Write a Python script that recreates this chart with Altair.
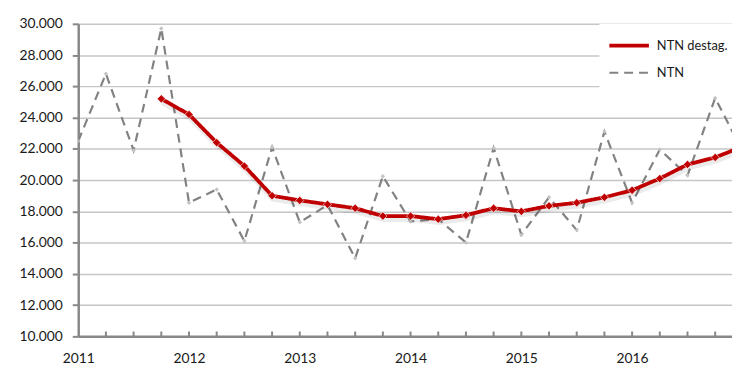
import altair as alt
import pandas as pd

# quarter index 0 = 2011 Q1
quarters = ["2011Q1", "2011Q2", "2011Q3", "2011Q4",
            "2012Q1", "2012Q2", "2012Q3", "2012Q4",
            "2013Q1", "2013Q2", "2013Q3", "2013Q4",
            "2014Q1", "2014Q2", "2014Q3", "2014Q4",
            "2015Q1", "2015Q2", "2015Q3", "2015Q4",
            "2016Q1", "2016Q2", "2016Q3", "2016Q4",
            "2017Q1"]
ntn = [22500, 26800, 21900, 29700,
       18550, 19400, 16100, 22100,
       17300, 18400, 15000, 20250,
       17350, 17500, 16000, 22050,
       16500, 18900, 16800, 23100,
       18550, 21950, 20300, 25250,
       21800]
ntn_destag = [None, None, None, 25200,
              24200, 22400, 20900, 19000,
              18700, 18450, 18200, 17700,
              17700, 17500, 17750, 18200,
              18000, 18350, 18550, 18900,
              19350, 20100, 21000, 21450,
              22150]
year_ticks = [0, 4, 8, 12, 16, 20, 24]
y_ticks = [10000, 12000, 14000, 16000, 18000, 20000, 22000, 24000, 26000, 28000, 30000]

series_names = ["NTN destag.", "NTN"]

rows = []
for i, q in enumerate(quarters):
    rows.append({"idx": i, "quarter": q, "series": "NTN", "value": ntn[i]})
    if ntn_destag[i] is not None:
        rows.append({"idx": i, "quarter": q, "series": "NTN destag.", "value": ntn_destag[i]})
df = pd.DataFrame(rows)
ticks_df = pd.DataFrame({"idx": list(range(len(quarters))), "quarter": quarters})

FONT = "Lato"
FS = 14
LABEL_COLOR = "#1a1a1a"
AXIS_GRAY = "#888888"

x_scale = alt.Scale(domain=[0, 23.607], nice=False, zero=False)
y_scale = alt.Scale(domain=[10000, 30000], nice=False, zero=False)

x_enc = alt.X("idx:Q", scale=x_scale, title=None,
              axis=alt.Axis(values=year_ticks, tickCount=30, grid=False, ticks=False,
                            labelExpr="2011 + datum.value / 4",
                            labelFlush=False, labelOverlap=False,
                            labelFont=FONT, labelFontSize=FS, labelColor=LABEL_COLOR,
                            labelPadding=15, domainColor=AXIS_GRAY,
                            domainWidth=2.5))
y_enc = alt.Y("value:Q", scale=y_scale, title=None,
              axis=alt.Axis(values=y_ticks, tickCount=20,
                            labelExpr="replace(format(datum.value, ','), ',', '.')",
                            labelOverlap=False, labelFlush=False,
                            labelFont=FONT, labelFontSize=FS, labelColor=LABEL_COLOR,
                            grid=True, gridColor="#c6c6c6", gridWidth=1.5,
                            tickColor=AXIS_GRAY, tickWidth=2, tickSize=6,
                            domainColor=AXIS_GRAY, domainWidth=2.5,
                            labelPadding=10))

legend = alt.Legend(title=None, orient="none", legendX=527, legendY=0,
                    fillColor="white", padding=10, symbolType="M-1.2,0H2.8",
                    symbolSize=400, labelFont=FONT, labelFontSize=13,
                    labelColor=LABEL_COLOR, labelOffset=24, rowPadding=8)

base = alt.Chart(df).encode(
    x=x_enc,
    y=y_enc,
    color=alt.Color("series:N", scale=alt.Scale(domain=series_names, range=["#c00000", "#828282"]), legend=legend),
    strokeDash=alt.StrokeDash("series:N", scale=alt.Scale(domain=series_names, range=[[1, 0], [9, 6]]), legend=legend),
    strokeWidth=alt.StrokeWidth("series:N", scale=alt.Scale(domain=series_names, range=[3.8, 2.2]), legend=legend),
)

ntn_line = base.transform_filter(alt.datum.series == "NTN").mark_line(clip=True)
ntn_pts = alt.Chart(df).transform_filter(alt.datum.series == "NTN").mark_point(
    shape="diamond", filled=True, size=20, color="#c4c4c4", opacity=1, clip=True
).encode(x=alt.X("idx:Q", scale=x_scale), y=alt.Y("value:Q", scale=y_scale))

shadow = alt.Chart(df).transform_filter(alt.datum.series == "NTN destag.").mark_line(
    color="#000000", opacity=0.08, strokeWidth=6, xOffset=1, yOffset=3, clip=True
).encode(x=alt.X("idx:Q", scale=x_scale), y=alt.Y("value:Q", scale=y_scale))

destag_line = base.transform_filter(alt.datum.series == "NTN destag.").mark_line(clip=True)
destag_pts = alt.Chart(df).transform_filter(alt.datum.series == "NTN destag.").mark_point(
    shape="diamond", filled=True, size=70, color="#c00000", opacity=1,
    stroke="white", strokeWidth=0.6, clip=True
).encode(x=alt.X("idx:Q", scale=x_scale), y=alt.Y("value:Q", scale=y_scale))

qticks = alt.Chart(ticks_df).mark_rule(color=AXIS_GRAY, strokeWidth=2, clip=True).encode(
    x=alt.X("idx:Q", scale=x_scale),
    y=alt.value(311),
    y2=alt.value(316),
)

chart = alt.layer(qticks, ntn_line, ntn_pts, shadow, destag_line, destag_pts).properties(
    width=661, height=316,
    padding={"left": 71, "top": 14, "right": 0, "bottom": 30},
    autosize=alt.AutoSizeParams(type="none"),
    background="white",
).configure_view(stroke=None)

chart.save("out.html", embed_options={"renderer": "svg", "actions": False})
